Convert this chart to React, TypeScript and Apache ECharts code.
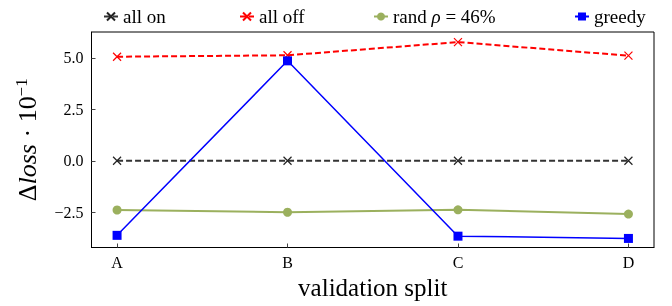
import React, { useEffect, useRef } from "react";
import * as echarts from "echarts";

const categories = ["A", "B", "C", "D"];
const allOn = [0, 0, 0, 0];
const allOff = [5.05, 5.12, 5.76, 5.1];
const randRho = [-2.39, -2.5, -2.38, -2.59];
const greedy = [-3.62, 4.85, -3.66, -3.77];
const yTicks = [-2.5, 0, 2.5, 5.0];
const xTicks = [0, 1, 2, 3];

const FONT = "'Liberation Serif', 'DejaVu Serif', serif";
const X_PATH = "path://M0,0L10,10M10,0L0,10";

const toPairs = (arr: number[]) => arr.map((v, i) => [i, v]);

export default function App() {
  const ref = useRef<HTMLDivElement>(null);
  useEffect(() => {
    if (!ref.current) return;
    const chart = echarts.init(ref.current, undefined, { renderer: "svg" });
    const legendBase = (name: string, left: number) => ({
      data: [name],
      left,
      top: 2,
      itemWidth: 14,
      itemHeight: 10,
      textStyle: {
        fontFamily: FONT,
        fontSize: 19,
        color: "#000",
        rich: {
          a: { fontFamily: FONT, fontSize: 19, color: "#000" },
          i: { fontFamily: FONT, fontSize: 19, color: "#000", fontStyle: "italic" },
        },
      },
      formatter: (n: string) =>
        n.startsWith("rand") ? "{a|rand }{i|ρ}{a| = 46%}" : "{a|" + n + "}",
    });
    const axisLine = {
      show: true,
      onZero: false,
      lineStyle: { color: "#000", width: 1 },
    };
    chart.setOption({
      animation: false,
      legend: [
        legendBase("all on", 98),
        legendBase("all off", 234),
        legendBase("rand ρ = 46%", 368),
        legendBase("greedy", 569),
      ],
      grid: {
        left: 91.5,
        right: 18,
        top: 32,
        bottom: 58.5,
        show: true,
        borderColor: "#000",
        borderWidth: 1,
        containLabel: false,
      },
      xAxis: {
        type: "value",
        min: -0.15,
        max: 3.15,
        name: "validation split",
        nameLocation: "middle",
        nameGap: 27,
        nameTextStyle: { fontFamily: FONT, fontSize: 25, color: "#000" },
        axisLine,
        axisTick: {
          show: true,
          inside: true,
          length: 4,
          customValues: xTicks,
          lineStyle: { color: "#444" },
        },
        axisLabel: {
          customValues: xTicks,
          formatter: (v: number) => categories[Math.round(v)] ?? "",
          fontFamily: FONT,
          fontSize: 16,
          color: "#000",
          margin: 7,
        },
        splitLine: { show: false },
      },
      yAxis: {
        type: "value",
        min: -4.21,
        max: 6.25,
        name: "{d|Δ}{i|loss}{n| · 10}{s|−1}",
        nameLocation: "middle",
        nameGap: 50,
        nameRotate: 90,
        nameTextStyle: {
          fontFamily: FONT,
          fontSize: 26,
          color: "#000",
          rich: {
            d: { fontFamily: FONT, fontSize: 26, color: "#000", fontStyle: "normal" },
            i: { fontFamily: FONT, fontSize: 26, color: "#000", fontStyle: "italic" },
            n: { fontFamily: FONT, fontSize: 26, color: "#000", fontStyle: "normal" },
            s: {
              fontFamily: FONT,
              fontSize: 17,
              color: "#000",
              verticalAlign: "top",
              padding: [0, 0, 12, 0],
            },
          },
        },
        axisLine,
        axisTick: {
          show: true,
          inside: true,
          length: 4,
          customValues: yTicks,
          lineStyle: { color: "#444" },
        },
        axisLabel: {
          customValues: yTicks,
          formatter: (v: number) =>
            v < 0 ? "−" + Math.abs(v).toFixed(1) : v.toFixed(1),
          fontFamily: FONT,
          fontSize: 16,
          color: "#000",
          margin: 8,
        },
        splitLine: { show: false },
      },
      series: [
        {
          name: "all on",
          type: "line",
          data: toPairs(allOn),
          symbol: X_PATH,
          symbolSize: 8,
          lineStyle: { color: "#333", width: 1.8, type: [6, 3] },
          itemStyle: { color: "#222", borderColor: "#222", borderWidth: 1.2 },
          z: 2,
        },
        {
          name: "all off",
          type: "line",
          data: toPairs(allOff),
          symbol: X_PATH,
          symbolSize: 8,
          lineStyle: { color: "#ff0000", width: 2, type: [6, 3] },
          itemStyle: { color: "#ff0000", borderColor: "#ff0000", borderWidth: 1.2 },
          z: 3,
        },
        {
          name: "rand ρ = 46%",
          type: "line",
          data: toPairs(randRho),
          symbol: "circle",
          symbolSize: 9,
          lineStyle: { color: "#9bb05e", width: 2 },
          itemStyle: { color: "#9bb05e", borderWidth: 0 },
          z: 4,
        },
        {
          name: "greedy",
          type: "line",
          data: toPairs(greedy),
          symbol: "rect",
          symbolSize: 9,
          lineStyle: { color: "#0000ff", width: 1.5 },
          itemStyle: { color: "#0000ff", borderWidth: 0 },
          z: 5,
        },
      ],
    });
    return () => chart.dispose();
  }, []);
  return (
    <div
      ref={ref}
      style={{ position: "fixed", left: 0, top: 0, width: 672, height: 306 }}
    />
  );
}
